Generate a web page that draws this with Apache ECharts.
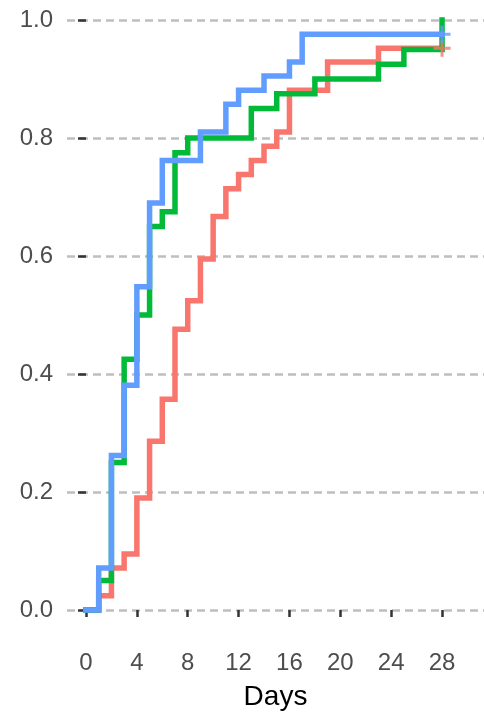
<!DOCTYPE html>
<html lang="en">
<head>
    <meta charset="UTF-8">
    <title>Cumulative incidence</title>
    <script src="https://cdn.jsdelivr.net/npm/echarts@6/dist/echarts.min.js"></script>
    <style>
        html, body { margin: 0; padding: 0; background: #fff; }
        #chart { width: 484px; height: 715px; }
    </style>
</head>
<body>
<div id="chart"></div>
<script type="text/javascript">
    // step times (days) and cumulative proportions for each group
    var redDays = [0, 1, 2, 3, 4, 5, 6, 7, 8, 9, 10, 11, 12, 13, 14, 15, 16, 19, 23, 28];
    var redVals = [0, 0.024, 0.071, 0.095, 0.19, 0.286, 0.357, 0.476, 0.524, 0.595, 0.667, 0.714, 0.738, 0.762, 0.786, 0.81, 0.881, 0.929, 0.952, 0.952];

    var greenDays = [0, 1, 2, 3, 4, 5, 6, 7, 8, 13, 15, 18, 23, 25, 28];
    var greenVals = [0, 0.05, 0.25, 0.425, 0.5, 0.65, 0.675, 0.775, 0.8, 0.85, 0.875, 0.9, 0.925, 0.95, 1.0];

    var blueDays = [0, 1, 2, 3, 4, 5, 6, 9, 11, 12, 14, 16, 17, 28];
    var blueVals = [0, 0.071, 0.262, 0.381, 0.548, 0.69, 0.762, 0.81, 0.857, 0.881, 0.905, 0.929, 0.976, 0.976];

    // censored points (+ marks)
    var censorRed = [[28, 0.952]];
    var censorBlue = [[28, 0.976]];

    var xTicks = [0, 4, 8, 12, 16, 20, 24, 28];
    var yTicks = [0, 0.2, 0.4, 0.6, 0.8, 1.0];

    function pairs(xs, ys) {
        return xs.map(function (x, i) { return [x, ys[i]]; });
    }

    var plus = 'path://M7,0H10V7H17V10H10V17H7V10H0V7H7Z';

    function stepSeries(name, color, xs, ys) {
        return {
            name: name,
            type: 'line',
            step: 'end',
            data: pairs(xs, ys),
            showSymbol: false,
            symbol: 'none',
            lineStyle: { color: color, width: 5.5, cap: 'square', join: 'miter' },
            silent: true,
            animation: false
        };
    }

    function censorSeries(color, pts) {
        return {
            type: 'scatter',
            data: pts,
            symbol: plus,
            symbolSize: 17,
            itemStyle: { color: color },
            silent: true,
            animation: false,
            z: 3
        };
    }

    var chart = echarts.init(document.getElementById('chart'));

    var option = {
        animation: false,
        textStyle: { fontFamily: 'Liberation Sans, Arial, sans-serif' },
        grid: { left: 67, right: 0, top: 2.3, bottom: 87.3, outerBoundsMode: 'none', containLabel: false },
        xAxis: {
            type: 'value',
            min: -1.494,
            max: 31.3,
            offset: 12.3,
            name: 'Days',
            nameLocation: 'middle',
            nameGap: 43,
            nameTextStyle: { fontSize: 28, color: '#000' },
            axisLine: { show: false },
            axisTick: {
                show: true, length: 7, customValues: xTicks,
                lineStyle: { color: '#333', width: 2.5 }
            },
            axisLabel: {
                customValues: xTicks, fontSize: 24, color: '#4D4D4D', margin: 11,
                showMinLabel: true, showMaxLabel: true
            },
            splitLine: { show: false }
        },
        yAxis: {
            type: 'value',
            min: -0.03,
            max: 1.03,
            axisLine: { show: false },
            axisTick: {
                show: true, length: 8, customValues: yTicks,
                lineStyle: { color: '#333', width: 2.5 }
            },
            axisLabel: {
                customValues: yTicks, fontSize: 24, color: '#4D4D4D', margin: 14,
                formatter: function (v) { return v.toFixed(1); }
            },
            splitLine: {
                show: true,
                lineStyle: { color: '#BEBEBE', width: 2.5, type: [8, 5] }
            }
        },
        series: [
            stepSeries('red', '#F8766D', redDays, redVals),
            stepSeries('green', '#00BA38', greenDays, greenVals),
            stepSeries('blue', '#619CFF', blueDays, blueVals),
            censorSeries('#F8766D', censorRed),
            censorSeries('#619CFF', censorBlue)
        ]
    };

    chart.setOption(option);
</script>
</body>
</html>
